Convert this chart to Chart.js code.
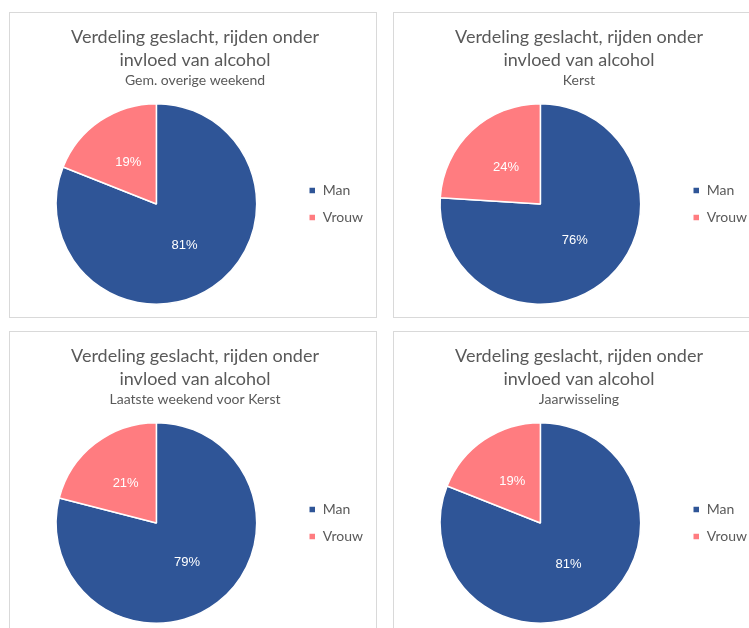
<!DOCTYPE html>
<html>
<head>
<meta charset="utf-8">
<script src="https://cdn.jsdelivr.net/npm/chart.js@4.4.1/dist/chart.umd.min.js"></script>
<style>
  html, body { margin: 0; padding: 0; background: #fff; overflow: hidden; }
  .box { position: absolute; width: 366px; height: 304px; border: 1px solid #d9d9d9; background: #fff; }
  .box canvas { display: block; }
</style>
</head>
<body>
<div class="box" style="left:9px; top:12px;"><canvas id="c1" width="366" height="304"></canvas></div>
<div class="box" style="left:393px; top:12px;"><canvas id="c2" width="366" height="304"></canvas></div>
<div class="box" style="left:9px; top:331px;"><canvas id="c3" width="366" height="304"></canvas></div>
<div class="box" style="left:393px; top:331px;"><canvas id="c4" width="366" height="304"></canvas></div>
<script>
// data
var categories = ['Man', 'Vrouw'];
var periods = ['Gem. overige weekend', 'Kerst', 'Laatste weekend voor Kerst', 'Jaarwisseling'];
var manValues = [81, 76, 79, 81];
var vrouwValues = [19, 24, 21, 19];
var chartTitle = ['Verdeling geslacht, rijden onder', 'invloed van alcohol'];

var colors = ['#2f5597', '#ff7c80'];
var textGrey = '#595959';

// percentage labels inside the slices
const pctLabels = {
    id: 'pctLabels',
    afterDatasetsDraw(chart) {
        const c = chart.ctx;
        const meta = chart.getDatasetMeta(0);
        const vals = chart.data.datasets[0].data;
        c.save();
        c.fillStyle = '#ffffff';
        c.font = '13px "Liberation Sans", Arial, sans-serif';
        c.textAlign = 'center';
        c.textBaseline = 'middle';
        meta.data.forEach(function (arc, i) {
            const p = arc.tooltipPosition();
            c.fillText(vals[i] + '%', p.x, p.y);
        });
        c.restore();
    }
};

function createPieChart(id, index) {
    new Chart(document.getElementById(id), {
        type: 'pie',
        data: {
            labels: categories,
            datasets: [{
                data: [manValues[index], vrouwValues[index]],
                backgroundColor: colors,
                borderColor: '#ffffff',
                borderWidth: 1.5
            }]
        },
        options: {
            responsive: false,
            animation: false,
            devicePixelRatio: 1,
            layout: { padding: { top: 13, bottom: 12, left: 7, right: 3 } },
            plugins: {
                title: {
                    display: true,
                    text: chartTitle,
                    color: textGrey,
                    font: { family: 'Lato', size: 18, weight: 'normal', lineHeight: 1.28 },
                    padding: { top: 0, bottom: 0 }
                },
                subtitle: {
                    display: true,
                    text: periods[index],
                    color: textGrey,
                    font: { family: 'Lato', size: 14, weight: 'normal', lineHeight: 1.2 },
                    padding: { top: 0, bottom: 14 }
                },
                legend: {
                    display: true,
                    position: 'right',
                    fullSize: false,
                    labels: {
                        color: textGrey,
                        boxWidth: 7,
                        boxHeight: 7,
                        padding: 13,
                        font: { family: 'Lato', size: 14 }
                    }
                },
                tooltip: { enabled: false }
            }
        },
        plugins: [pctLabels]
    });
}

createPieChart('c1', 0);
createPieChart('c2', 1);
createPieChart('c3', 2);
createPieChart('c4', 3);
</script>
</body>
</html>
